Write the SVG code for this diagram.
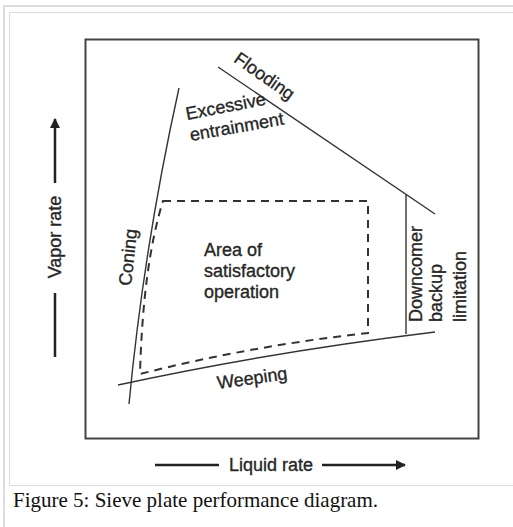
<svg xmlns="http://www.w3.org/2000/svg" width="513" height="527" viewBox="0 0 513 527">
<defs>
<style>
.lbl{font-family:"Liberation Sans",Arial,sans-serif;font-size:18px;fill:#262626;stroke:#262626;stroke-width:0.35}
.cap{font-family:"Liberation Serif","Times New Roman",serif;font-size:21px;fill:#111}
.ln{fill:none;stroke:#333;stroke-width:1.4}
.dash{fill:none;stroke:#333;stroke-width:2;stroke-dasharray:8 6}
.ax{fill:none;stroke:#222;stroke-width:2.5}
</style>
<marker id="ah" viewBox="0 0 10 10" refX="9" refY="5" markerWidth="4" markerHeight="4" orient="auto" markerUnits="strokeWidth">
<path d="M0,0 L10,5 L0,10 Z" fill="#222"/>
</marker>
</defs>
<rect width="513" height="527" fill="#fff"/>
<path d="M4,527 V6 H513" fill="none" stroke="#dcdcdc" stroke-width="2"/>
<path d="M513,12.5 H9.5 V485.5 H513" fill="none" stroke="#dcdcdc" stroke-width="1"/>
<rect id="plot-frame" x="85.5" y="39.5" width="393" height="399" fill="none" stroke="#444" stroke-width="2"/>
<g id="connectors">
<path id="flooding-line" class="ln" d="M218,67 L435,214"/>
<path id="coning-line" class="ln" d="M179,88 Q144,246 129,404"/>
<path id="weeping-line" class="ln" d="M118,385 Q270,352 435,332"/>
<path id="downcomer-line" class="ln" d="M406,194.5 V334"/>
<path id="operating-area" class="dash" d="M163,201 H368 V333 Q250,346 140,374 Q143,265 163,201 Z"/>
<path id="vapor-arrow-up" class="ax" d="M55,183 V119" marker-end="url(#ah)"/>
<path id="vapor-line-low" class="ax" d="M55,293 V357"/>
<path id="liquid-line-left" class="ax" d="M155,465 H219"/>
<path id="liquid-arrow-right" class="ax" d="M322,465 H405" marker-end="url(#ah)"/>
</g>
<g id="flooding"><text class="lbl" text-anchor="middle" transform="translate(261,81) rotate(35)">Flooding</text></g>
<g id="entrainment">
<text class="lbl" transform="translate(187,120) rotate(-11)">Excessive</text>
<text class="lbl" transform="translate(191,141) rotate(-10)">entrainment</text>
</g>
<g id="coning"><text class="lbl" text-anchor="middle" transform="translate(134,258) rotate(-84)">Coning</text></g>
<g id="area">
<text class="lbl" x="204" y="256">Area of</text>
<text class="lbl" x="204" y="277">satisfactory</text>
<text class="lbl" x="204" y="298">operation</text>
</g>
<g id="weeping"><text class="lbl" transform="translate(218,389) rotate(-8)">Weeping</text></g>
<g id="downcomer">
<text class="lbl" transform="translate(422,322) rotate(-90)">Downcomer</text>
<text class="lbl" transform="translate(442,322) rotate(-90)">backup</text>
<text class="lbl" transform="translate(466,322) rotate(-90)">limitation</text>
</g>
<g id="vapor-rate"><text class="lbl" text-anchor="middle" transform="translate(61,237) rotate(-90)">Vapor rate</text></g>
<g id="liquid-rate"><text class="lbl" text-anchor="middle" x="271" y="471">Liquid rate</text></g>
<g id="caption"><text class="cap" x="13" y="507">Figure 5: Sieve plate performance diagram.</text></g>
</svg>
